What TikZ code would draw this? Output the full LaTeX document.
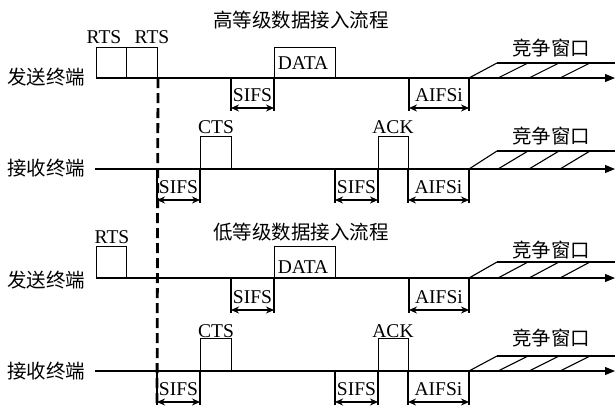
\documentclass[tikz,border=0pt]{standalone}
\usepackage{fontspec}
\setmainfont{Liberation Serif}
\newfontfamily\cjk{Noto Sans CJK SC}
\usetikzlibrary{arrows.meta}
% bracket: name, x1, x2, ybase, yarrow, label
\newcommand{\tmBracket}[6]{%
  \coordinate (#1l) at (#2,#4); \coordinate (#1r) at (#3,#4);
  \coordinate (#1lb) at (#2,#5+3); \coordinate (#1rb) at (#3,#5+3);
  \coordinate (#1la) at (#2,#5); \coordinate (#1ra) at (#3,#5);
  \draw[tick] (#1l) -- (#1lb);
  \draw[tick] (#1r) -- (#1rb);
  \draw[dim] (#1la) -- (#1ra);
  \node[lat] (#1t) at ({(#2+#3)/2},#5-7) {#6};
}
% contention window: name, ybase, ytop, ytext
\newcommand{\tmCW}[4]{%
  \coordinate (#1a0) at (469,#2); \coordinate (#1b0) at (497,#3);
  \coordinate (#1a1) at (498,#2); \coordinate (#1b1) at (528,#3);
  \coordinate (#1a2) at (529,#2); \coordinate (#1b2) at (559,#3);
  \coordinate (#1a3) at (560,#2); \coordinate (#1b3) at (590,#3);
  \coordinate (#1e) at (615,#3); \coordinate (#1f) at (590,#2);
  \draw[hatch] (#1a0) -- (#1b0);
  \draw[hatch] (#1a1) -- (#1b1);
  \draw[hatch] (#1a2) -- (#1b2);
  \draw[hatch] (#1a3) -- (#1b3);
  \draw[hatch] (#1b0) -- (#1e);
  \draw[line width=2.4pt] (#1a0) -- (#1f);
  \node[zh] (#1t) at (551,#4) {竞争窗口};
}
\begin{document}
\begin{tikzpicture}[x=1pt,y=-1pt,
  line width=1pt,
  pkt/.style={draw, line width=1pt, inner sep=0pt, anchor=south west},
  lat/.style={font=\fontsize{19.5}{21}\selectfont, inner sep=0pt, anchor=base},
  zh/.style={font=\cjk\fontsize{19.5}{21}\selectfont, inner sep=0pt},
  tick/.style={line width=1.5pt},
  dim/.style={line width=1.5pt, {Stealth[length=8pt,width=7pt]}-{Stealth[length=8pt,width=7pt]}},
  axis/.style={line width=1.1pt, -{Triangle[length=10pt,width=8pt]}},
  hatch/.style={line width=1.1pt},
  vdash/.style={line width=2.8pt, dash pattern=on 10pt off 5pt},
]
\useasboundingbox (0,0) rectangle (615,408);

% ---------- titles ----------
\node[zh] (title1) at (301,20) {高等级数据接入流程};
\node[zh] (title2) at (301,232) {低等级数据接入流程};

% ---------- panel 1: sender, high ----------
\node[zh] (snd1) at (46,77) {发送终端};
\node[pkt, minimum width=30pt, minimum height=30pt] (rtsA) at (96,78) {};
\node[pkt, minimum width=31pt, minimum height=30pt] (rtsB) at (126,78) {};
\node[pkt, minimum width=61pt, minimum height=30pt] (dataA) at (274,78) {};
\node[lat] (lrtsA) at (104,43) {RTS};
\node[lat] (lrtsB) at (152,43) {RTS};
\node[lat] (ldataA) at (303,69) {DATA};
\coordinate (e1) at (615,78);
\draw[axis] (rtsA.south west) -- (e1);
\tmBracket{p1s}{231}{274}{78}{108}{SIFS}
\tmBracket{p1a}{409}{469}{78}{108}{AIFSi}
\tmCW{p1c}{78}{63}{48}

% ---------- panel 2: receiver, high ----------
\node[zh] (rcv1) at (46,168) {接收终端};
\coordinate (s2) at (95,169);
\coordinate (e2) at (615,169);
\draw[axis] (s2) -- (e2);
\node[pkt, minimum width=31pt, minimum height=32pt] (ctsA) at (200,169) {};
\node[pkt, minimum width=30pt, minimum height=32pt] (ackA) at (378,169) {};
\node[lat] (lctsA) at (216,133) {CTS};
\node[lat] (lackA) at (393,133) {ACK};
\tmBracket{p2s}{157}{200}{169}{200}{SIFS}
\tmBracket{p2t}{335}{378}{169}{200}{SIFS}
\tmBracket{p2a}{408}{469}{169}{200}{AIFSi}
\tmCW{p2c}{169}{151}{136}

% ---------- panel 3: sender, low ----------
\node[zh] (snd2) at (46,280) {发送终端};
\node[pkt, minimum width=30pt, minimum height=31pt] (rtsC) at (96,278) {};
\node[pkt, minimum width=61pt, minimum height=31pt] (dataB) at (274,278) {};
\node[lat] (lrtsC) at (112,243) {RTS};
\node[lat] (ldataB) at (303,273) {DATA};
\coordinate (e3) at (615,278);
\draw[axis] (rtsC.south west) -- (e3);
\tmBracket{p3s}{231}{274}{278}{310}{SIFS}
\tmBracket{p3a}{409}{469}{278}{310}{AIFSi}
\tmCW{p3c}{278}{262}{250}

% ---------- panel 4: receiver, low ----------
\node[zh] (rcv2) at (46,371) {接收终端};
\coordinate (s4) at (95,371);
\coordinate (e4) at (615,371);
\draw[axis] (s4) -- (e4);
\node[pkt, minimum width=31pt, minimum height=32pt] (ctsB) at (200,371) {};
\node[pkt, minimum width=30pt, minimum height=32pt] (ackB) at (378,371) {};
\node[lat] (lctsB) at (216,337) {CTS};
\node[lat] (lackB) at (393,337) {ACK};
\tmBracket{p4s}{157}{200}{371}{402}{SIFS}
\tmBracket{p4t}{335}{378}{371}{402}{SIFS}
\tmBracket{p4a}{408}{469}{371}{402}{AIFSi}
\tmCW{p4c}{371}{356}{338}

% ---------- dashed reference line ----------
\coordinate (dBot) at (157,407);
\draw[vdash] (rtsB.south east) -- (dBot);
\end{tikzpicture}
\end{document}
